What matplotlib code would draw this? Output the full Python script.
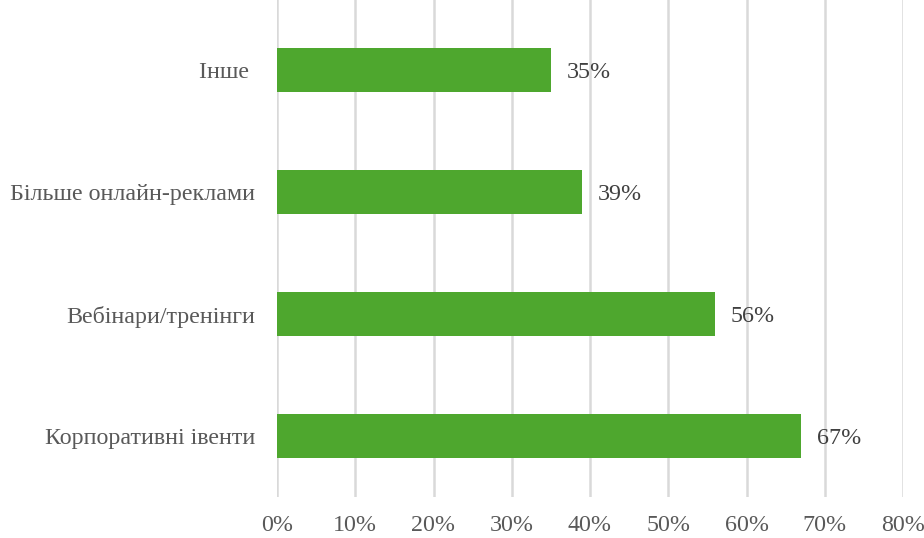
import matplotlib.pyplot as plt
from matplotlib.ticker import PercentFormatter

categories = ['Корпоративні івенти', 'Вебінари/тренінги', 'Більше онлайн-реклами', 'Інше ']
values = [67, 56, 39, 35]
xticks = [0, 10, 20, 30, 40, 50, 60, 70, 80]

plt.rcParams['font.family'] = ['Liberation Serif', 'DejaVu Serif']

fig = plt.figure(figsize=(9.24, 5.38), dpi=100)
ax = fig.add_axes([277/924, 41/538, 626/924, 497/538])

ypos = range(len(categories))
ax.barh(ypos, values, height=0.36, color='#4EA72E', zorder=3)
for y, v in zip(ypos, values):
    ax.text(v + 2.0, y, f'{v}%', va='center_baseline', ha='left', fontsize=17.3, color='#404040')

ax.set_xlim(0, 80)
ax.set_ylim(-0.5, 3.5 + 9/122)
ax.set_xticks(xticks)
ax.xaxis.set_major_formatter(PercentFormatter(decimals=0))
ax.set_yticks(list(ypos))
ax.set_yticklabels(categories)
ax.tick_params(axis='both', length=0, labelsize=17.3, colors='#595959')
ax.tick_params(axis='x', pad=13)
ax.tick_params(axis='y', pad=16)
ax.grid(axis='x', color='#D9D9D9', linewidth=1.8, zorder=0)
for s in ax.spines.values():
    s.set_visible(False)

fig.savefig('out.png', dpi=100)
